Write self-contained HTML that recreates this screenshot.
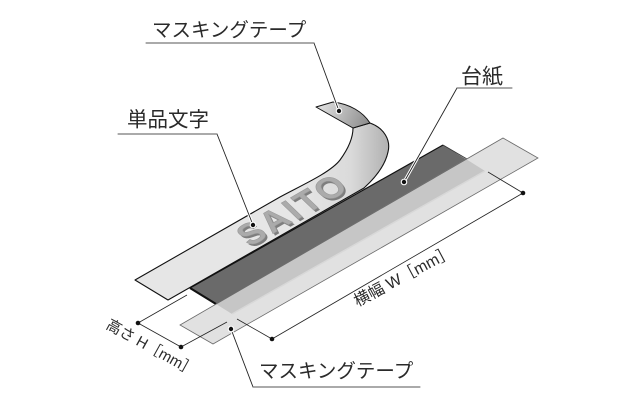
<!DOCTYPE html>
<html>
<head>
<meta charset="utf-8">
<style>
  html,body{margin:0;padding:0;background:#fff;}
  svg{display:block;}
  .jp{font-family:"Liberation Sans","Noto Sans CJK JP",sans-serif;fill:#2a2a2a;}
</style>
</head>
<body>
<svg width="640" height="420" viewBox="0 0 640 420" xmlns="http://www.w3.org/2000/svg">
  <defs>
    <linearGradient id="tg" gradientUnits="userSpaceOnUse" x1="300" y1="0" x2="392" y2="0">
      <stop offset="0" stop-color="#e6e6e6"/>
      <stop offset="0.55" stop-color="#dadada"/>
      <stop offset="1" stop-color="#aeaeae"/>
    </linearGradient>
    <linearGradient id="fg" gradientUnits="userSpaceOnUse" x1="318" y1="104" x2="368" y2="126">
      <stop offset="0" stop-color="#e2e2e2"/>
      <stop offset="1" stop-color="#8c8c8c"/>
    </linearGradient>
  </defs>

  <rect width="640" height="420" fill="#fff"/>

  <!-- masking tape (upper, peeled) -->
  <path d="M135,280 L280,197 C300,186 330,173 340,160 C348,149 353,138 353,128 L370,123 C384,128 391,140 388,152 C385,166 375,178 364,188 L168,300 Z"
        fill="url(#tg)" stroke="#111" stroke-width="1.1" stroke-linejoin="round"/>
  <!-- flap (back side) -->
  <path d="M316,107 L333,102 C350,104 363,112 370,123 L353,128 Z" fill="url(#fg)" stroke="#111" stroke-width="1" stroke-linejoin="round"/>

  <!-- SAITO letters -->
  <g font-family="Liberation Sans, sans-serif" font-weight="bold" font-size="34" letter-spacing="3">
    <text transform="matrix(0.866,-0.5,0.72,0.69,252,249)" fill="#7e7e7e">SAITO</text>
    <text transform="matrix(0.866,-0.5,0.72,0.69,250,247)" fill="#ababab" stroke="#999" stroke-width="0.6">SAITO</text>
  </g>

  <!-- backing sheet (dark) -->
  <polygon points="190,288 443,145 485,171 232,314" fill="#6a6a6a"/>
  <line x1="190" y1="288" x2="443" y2="145" stroke="#111" stroke-width="1.2"/>
  <line x1="443" y1="145" x2="467" y2="159" stroke="#333" stroke-width="0.8"/>
  <line x1="190" y1="288" x2="216" y2="304" stroke="#111" stroke-width="2.2"/>

  <!-- masking tape (lower, transparent) -->
  <polygon points="180,325 503,138 538,158 213,344" fill="#e1e1e1"/>
  <polygon points="216,304 466,159 485,171 232,314" fill="#c6c6c6"/>
  <line x1="232" y1="314" x2="485" y2="171" stroke="#d8d8d8" stroke-width="1.5"/>
  <polygon points="180,325 503,138 538,158 213,344" fill="none" stroke="#6a6a6a" stroke-width="0.8"/>

  <!-- dimensions -->
  <g stroke="#222" stroke-width="0.8" fill="none">
    <line x1="138" y1="323" x2="181" y2="347"/>
    <line x1="138" y1="323" x2="187" y2="295"/>
    <line x1="181" y1="347" x2="227" y2="322"/>
    <line x1="272" y1="339" x2="523" y2="193"/>
    <line x1="272" y1="339" x2="237" y2="319"/>
    <line x1="523" y1="193" x2="488" y2="172"/>
  </g>
  <g fill="#111">
    <circle cx="138" cy="323" r="2.3"/>
    <circle cx="181" cy="347" r="2.3"/>
    <circle cx="272" cy="339" r="2.3"/>
    <circle cx="523" cy="193" r="2.3"/>
  </g>

  <!-- leaders -->
  <g fill="none" stroke-linecap="round">
    <g stroke="#fff" stroke-width="3">
      <line x1="314" y1="43" x2="339" y2="111"/>
      <line x1="217" y1="134" x2="253" y2="225"/>
      <line x1="457" y1="88" x2="404" y2="182"/>
      <line x1="231" y1="329" x2="253" y2="387"/>
    </g>
    <g stroke="#222" stroke-width="0.9">
      <line x1="314" y1="43" x2="339" y2="111"/>
      <line x1="217" y1="134" x2="253" y2="225"/>
      <line x1="457" y1="88" x2="404" y2="182"/>
      <line x1="231" y1="329" x2="253" y2="387"/>
    </g>
    <g stroke="#555" stroke-width="1">
      <line x1="146" y1="43" x2="314" y2="43"/>
      <line x1="118" y1="134" x2="217" y2="134"/>
      <line x1="457" y1="88" x2="512" y2="88"/>
      <line x1="253" y1="387" x2="420" y2="387"/>
    </g>
  </g>
  <g>
    <circle cx="339" cy="111" r="3.3" fill="#fff"/><circle cx="339" cy="111" r="2.2" fill="#111"/>
    <circle cx="253" cy="225" r="3.3" fill="#fff"/><circle cx="253" cy="225" r="2.2" fill="#111"/>
    <circle cx="404" cy="182" r="3.3" fill="#fff"/><circle cx="404" cy="182" r="2.2" fill="#111"/>
    <circle cx="231" cy="329" r="3.3" fill="#fff"/><circle cx="231" cy="329" r="2.2" fill="#111"/>
  </g>

  <!-- labels -->
  <text class="jp" x="152" y="36.5" font-size="19.5">マスキングテープ</text>
  <text class="jp" x="127" y="126.5" font-size="20.5">単品文字</text>
  <text class="jp" x="461" y="83.5" font-size="21">台紙</text>
  <text class="jp" x="259" y="377.5" font-size="19.5">マスキングテープ</text>

  <text class="jp" font-size="15" text-anchor="middle" dominant-baseline="central"
        transform="translate(151,348) rotate(29)">高さ H［mm］</text>
  <text class="jp" font-size="16" text-anchor="middle" dominant-baseline="central"
        transform="translate(404,277) rotate(-28)">横幅 W［mm］</text>
</svg>
</body>
</html>
